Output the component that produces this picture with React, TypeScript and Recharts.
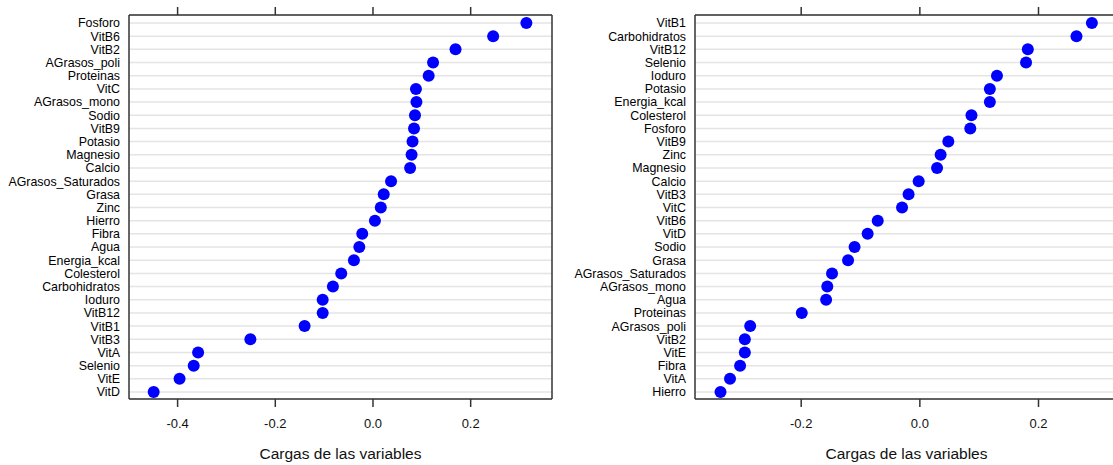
import { ComposedChart, Line, XAxis, YAxis, CartesianGrid } from 'recharts';

// panel 1 (left), rows top -> bottom
const leftNames = [
  'Fosforo', 'VitB6', 'VitB2', 'AGrasos_poli', 'Proteinas', 'VitC', 'AGrasos_mono', 'Sodio',
  'VitB9', 'Potasio', 'Magnesio', 'Calcio', 'AGrasos_Saturados', 'Grasa', 'Zinc', 'Hierro',
  'Fibra', 'Agua', 'Energia_kcal', 'Colesterol', 'Carbohidratos', 'Ioduro', 'VitB12', 'VitB1',
  'VitB3', 'VitA', 'Selenio', 'VitE', 'VitD',
];
const leftLoadings = [
  0.314, 0.246, 0.169, 0.123, 0.114, 0.088, 0.089, 0.086,
  0.084, 0.081, 0.079, 0.076, 0.037, 0.022, 0.016, 0.004,
  -0.022, -0.028, -0.039, -0.065, -0.082, -0.103, -0.103, -0.14,
  -0.251, -0.358, -0.367, -0.396, -0.449,
];

// panel 2 (right), rows top -> bottom
const rightNames = [
  'VitB1', 'Carbohidratos', 'VitB12', 'Selenio', 'Ioduro', 'Potasio', 'Energia_kcal', 'Colesterol',
  'Fosforo', 'VitB9', 'Zinc', 'Magnesio', 'Calcio', 'VitB3', 'VitC', 'VitB6',
  'VitD', 'Sodio', 'Grasa', 'AGrasos_Saturados', 'AGrasos_mono', 'Agua', 'Proteinas', 'AGrasos_poli',
  'VitB2', 'VitE', 'Fibra', 'VitA', 'Hierro',
];
const rightLoadings = [
  0.29, 0.264, 0.182, 0.179, 0.13, 0.118, 0.118, 0.087,
  0.085, 0.048, 0.035, 0.029, -0.002, -0.019, -0.03, -0.071,
  -0.088, -0.11, -0.121, -0.148, -0.156, -0.158, -0.199, -0.286,
  -0.295, -0.295, -0.303, -0.32, -0.336,
];

const leftTicks = [-0.4, -0.2, 0, 0.2];
const rightTicks = [-0.2, 0, 0.2];
const axisTitle = 'Cargas de las variables';

const FONT = '"Liberation Sans", Arial, sans-serif';
const BORDER = '#333';

interface PanelProps {
  names: string[];
  values: number[];
  ticks: number[];
  domain: [number, number];
  width: number;
  yWidth: number;
  rightMargin: number;
}

function DotPanel({ names, values, ticks, domain, width, yWidth, rightMargin }: PanelProps) {
  const data = names.map((name, i) => ({ name, value: values[i] }));
  return (
    <ComposedChart
      layout="vertical"
      width={width}
      height={465}
      data={data}
      margin={{ top: 6, right: rightMargin, bottom: 6, left: 0 }}
      style={{ fontFamily: FONT }}
    >
      <CartesianGrid
        xAxisId="bottom"
        yAxisId="left"
        horizontal
        vertical={false}
        stroke="#e4e4e4"
        strokeWidth={1.5}
      />
      <XAxis
        xAxisId="bottom"
        type="number"
        domain={domain}
        ticks={ticks}
        allowDataOverflow
        height={60}
        tickSize={8}
        tickMargin={12}
        tickFormatter={(v: number) => v.toFixed(1)}
        tick={{ fontSize: 13, fill: '#111', fontFamily: FONT }}
        axisLine={{ stroke: BORDER, strokeWidth: 1.5 }}
        tickLine={{ stroke: BORDER, strokeWidth: 1.5 }}
        label={{ value: axisTitle, position: 'insideBottom', offset: 0, fontSize: 15.5, fill: '#111', fontFamily: FONT }}
      />
      <XAxis
        xAxisId="top"
        orientation="top"
        type="number"
        domain={domain}
        ticks={ticks}
        allowDataOverflow
        height={9}
        tickSize={8}
        tickFormatter={() => ''}
        tick={{ fontSize: 1, fill: 'transparent' }}
        axisLine={{ stroke: BORDER, strokeWidth: 1.5 }}
        tickLine={{ stroke: BORDER, strokeWidth: 1.5 }}
      />
      <YAxis
        yAxisId="left"
        type="category"
        dataKey="name"
        scale="point"
        padding={{ top: 8, bottom: 7 }}
        width={yWidth}
        interval={0}
        tickSize={0}
        tickMargin={9}
        tickLine={false}
        tick={{ fontSize: 12.4, fill: '#000', fontFamily: FONT }}
        axisLine={{ stroke: BORDER, strokeWidth: 1.5 }}
      />
      <YAxis
        yAxisId="right"
        orientation="right"
        type="category"
        dataKey="name"
        scale="point"
        padding={{ top: 8, bottom: 7 }}
        width={1}
        interval={0}
        tickSize={0}
        tickFormatter={() => ''}
        tick={{ fontSize: 1, fill: 'transparent' }}
        tickLine={false}
        axisLine={{ stroke: BORDER, strokeWidth: 1.5 }}
      />
      <Line
        xAxisId="bottom"
        yAxisId="left"
        dataKey="value"
        stroke="none"
        dot={{ r: 6, fill: '#0000ff', stroke: 'none' }}
        activeDot={false}
        isAnimationActive={false}
      />
    </ComposedChart>
  );
}

export default function App() {
  return (
    <div
      style={{
        position: 'absolute',
        left: 0,
        top: 0,
        width: 1113,
        height: 465,
        overflow: 'hidden',
        background: '#fff',
      }}
    >
      <div style={{ position: 'absolute', left: 0, top: 0 }}>
        <DotPanel
          names={leftNames}
          values={leftLoadings}
          ticks={leftTicks}
          domain={[-0.4995, 0.3665]}
          width={560}
          yWidth={129}
          rightMargin={7}
        />
      </div>
      <div style={{ position: 'absolute', left: 560, top: 0 }}>
        <DotPanel
          names={rightNames}
          values={rightLoadings}
          ticks={rightTicks}
          domain={[-0.379, 0.334]}
          width={559}
          yWidth={135}
          rightMargin={0}
        />
      </div>
    </div>
  );
}
